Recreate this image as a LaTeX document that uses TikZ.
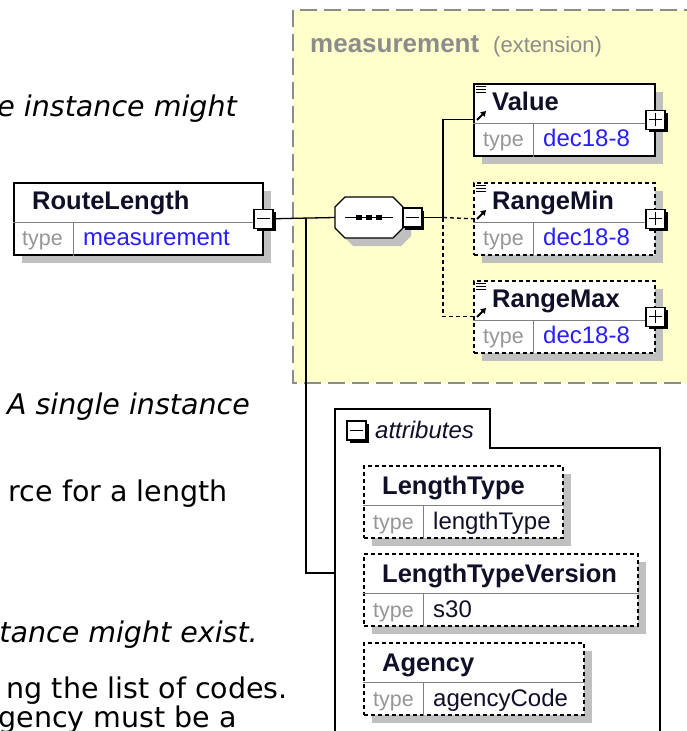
\documentclass[tikz,border=0pt]{standalone}
\usepackage{fontspec}
\setmainfont{DejaVu Sans}
\newfontfamily\xsdfont{Liberation Sans}
\usepackage{tikz}
\usetikzlibrary{arrows.meta}
\usetikzlibrary{shadows}

\definecolor{extyellow}{RGB}{255,255,204}
\definecolor{extgray}{RGB}{140,140,140}
\definecolor{shadegray}{RGB}{192,192,192}
\definecolor{keygray}{RGB}{150,150,150}
\definecolor{typeblue}{RGB}{40,30,255}
\definecolor{namedark}{RGB}{15,15,40}

\begin{document}
\begin{tikzpicture}[x=1pt,y=-1pt]
		\tikzset{
			bodyit/.style={font=\fontsize{28.5}{34}\selectfont\itshape, inner sep=0pt, anchor=base east},
			bodyrm/.style={font=\fontsize{28.5}{34}\selectfont, inner sep=0pt, anchor=base east},
			elbox/.style={draw=black, line width=1.5pt, fill=white, anchor=north west, inner sep=0pt, minimum height=72pt,
				drop shadow={shadow xshift=8pt, shadow yshift=-8pt, fill=shadegray, opacity=1}},
			eldash/.style={dash pattern=on 4pt off 3pt},
			divline/.style={draw=gray, line width=1pt},
			elname/.style={font=\xsdfont\bfseries\fontsize{25.5}{30}\selectfont, text=namedark, inner sep=0pt, anchor=base west},
			elkey/.style={font=\xsdfont\fontsize{21.5}{26}\selectfont, text=keygray, inner sep=0pt, anchor=base west},
			eltype/.style={font=\xsdfont\fontsize{24}{28}\selectfont, text=typeblue, inner sep=0pt, anchor=base west},
			pmbox/.style={draw=black, line width=1.3pt, fill=white, minimum size=19pt, inner sep=0pt,
				drop shadow={shadow xshift=2.5pt, shadow yshift=-2.5pt, fill=black, opacity=1}},
			minusbox/.style={pmbox, path picture={\draw[line width=1.4pt] ([xshift=3pt]path picture bounding box.west) -- ([xshift=-3pt]path picture bounding box.east);}},
			plusbox/.style={pmbox, path picture={\draw[line width=1.4pt] ([xshift=3pt]path picture bounding box.west) -- ([xshift=-3pt]path picture bounding box.east)
				([yshift=-3pt]path picture bounding box.north) -- ([yshift=3pt]path picture bounding box.south);}},
			conn/.style={line width=1.3pt},
		}
		\useasboundingbox (0,0) rectangle (687,731);
		% text of the page behind
		\node[bodyit] (txt1) at (237,116) {e instance might};
		\node[bodyit] (txt2) at (250,414) {A single instance};
		\node[bodyrm] (txt3) at (228,501) {rce for a length};
		\node[bodyit] (txt4) at (258,642) {tance might exist.};
		\node[bodyrm] (txt5) at (288,698) {ng the list of codes.};
		\node[bodyrm] (txt6) at (237,727) {gency must be a};
		% extension area
		\draw[draw=extgray, line width=1.5pt, dash pattern=on 17pt off 7pt, fill=extyellow] (293,10) rectangle (700,383);
		\node[font=\xsdfont\bfseries\fontsize{26}{30}\selectfont, text=extgray, inner sep=0pt, anchor=base west] (exthead) at (310,52) {measurement};
		\node[font=\xsdfont\fontsize{22}{26}\selectfont, text=extgray, inner sep=0pt, anchor=base west] (extnote) at (493,52) {(extension)};
		% root element
		\node[elbox, minimum width=249pt] (route) at (13,182) {};
		\draw[divline] ([yshift=-40pt]route.north west) -- ([yshift=-40pt]route.north east);
		\draw[divline] ([xshift=60pt,yshift=-40pt]route.north west) -- ([xshift=60pt]route.south west);
		\node[elname] (route-name) at ([xshift=19pt,yshift=-27pt]route.north west) {RouteLength};
		\node[elkey] (route-key) at ([xshift=9pt,yshift=-63.5pt]route.north west) {type};
		\node[eltype] (route-type) at ([xshift=70pt,yshift=-63.5pt]route.north west) {measurement};
		\node[minusbox] (route-minus) at (route.east) {};
		% sequence
		\node[minimum width=68pt, minimum height=41pt, inner sep=0pt] (seq) at (369,217.5) {};
		\fill[shadegray, shift={(8,8)}] (335,207) -- (345,197) -- (393,197) -- (403,207) -- (403,228) -- (393,238) -- (345,238) -- (335,228) -- cycle;
		\draw[line width=1.3pt, fill=white] (335,207) -- (345,197) -- (393,197) -- (403,207) -- (403,228) -- (393,238) -- (345,238) -- (335,228) -- cycle;
		\draw[line width=1.3pt] ([xshift=10pt]seq.west) -- ([xshift=-10pt]seq.east);
		\foreach \dx in {-10,0,10}
			\fill[black] ([xshift=\dx pt]seq.center) ++(-2.8,-2.8) rectangle ++(5.6,5.6);
		\node[minusbox, anchor=west] (seq-minus) at ([xshift=-1pt]seq.east) {};
		% child elements
		\foreach \nm/\yy/\lab/\ln in {value/83/Value/solid, rmin/182/RangeMin/eldash, rmax/280/RangeMax/eldash} {
			\node[elbox, \ln, minimum width=181pt] (\nm) at (473,\yy) {};
			\draw[divline] ([yshift=-40pt]\nm.north west) -- ([yshift=-40pt]\nm.north east);
			\draw[divline] ([xshift=60pt,yshift=-40pt]\nm.north west) -- ([xshift=60pt]\nm.south west);
			\foreach \ly in {3.5,6.5,9.5}
				\draw[line width=1.2pt] ([xshift=2.5pt,yshift=-\ly pt]\nm.north west) -- ++(10,0);
			\draw[-{Triangle[length=5pt,width=6pt]}, line width=1.8pt] ([xshift=4pt,yshift=-37pt]\nm.north west) -- ++(9,-9);
			\node[elname] (\nm-name) at ([xshift=19pt,yshift=-27pt]\nm.north west) {\lab};
			\node[elkey] (\nm-key) at ([xshift=10pt,yshift=-63.5pt]\nm.north west) {type};
			\node[eltype] (\nm-type) at ([xshift=70pt,yshift=-63.5pt]\nm.north west) {dec18-8};
			\node[plusbox] (\nm-plus) at (\nm.east) {};
		}
		% attributes
		\draw[line width=1.5pt] (335,745) |- (490,409) |- (660,448) -- (660,745);
		\node[minusbox] (att-minus) at (356.5,430.5) {};
		\node[font=\xsdfont\itshape\fontsize{24}{28}\selectfont, text=namedark, inner sep=0pt, anchor=base west] (att-label) at (375,438) {attributes};
		\foreach \nm/\yy/\ww/\lab/\typ in {ltype/465/199/LengthType/lengthType, ltver/553/274/LengthTypeVersion/s30, agency/642/220/Agency/agencyCode} {
			\node[elbox, eldash, minimum width=\ww pt] (\nm) at (363,\yy) {};
			\draw[divline] ([yshift=-40pt]\nm.north west) -- ([yshift=-40pt]\nm.north east);
			\draw[divline] ([xshift=60pt,yshift=-40pt]\nm.north west) -- ([xshift=60pt]\nm.south west);
			\node[elname] (\nm-name) at ([xshift=19pt,yshift=-29pt]\nm.north west) {\lab};
			\node[elkey] (\nm-key) at ([xshift=10pt,yshift=-64pt]\nm.north west) {type};
			\node[eltype, text=namedark] (\nm-type) at ([xshift=70pt,yshift=-64pt]\nm.north west) {\typ};
		}
		% connectors
		\coordinate (jroot) at (306,217.5);
		\coordinate (jseq) at (443,217.5);
		\coordinate (attin) at (335,573);
		\draw[conn] (route-minus.east) -- (seq.west);
		\draw[conn] (jroot) |- (attin);
		\draw[conn] (seq-minus.east) -- (jseq) |- (value.west);
		\draw[conn, eldash] (jseq) -- (rmin.west);
		\draw[conn, eldash] (jseq) |- (rmax.west);
	\end{tikzpicture}
\end{document}
